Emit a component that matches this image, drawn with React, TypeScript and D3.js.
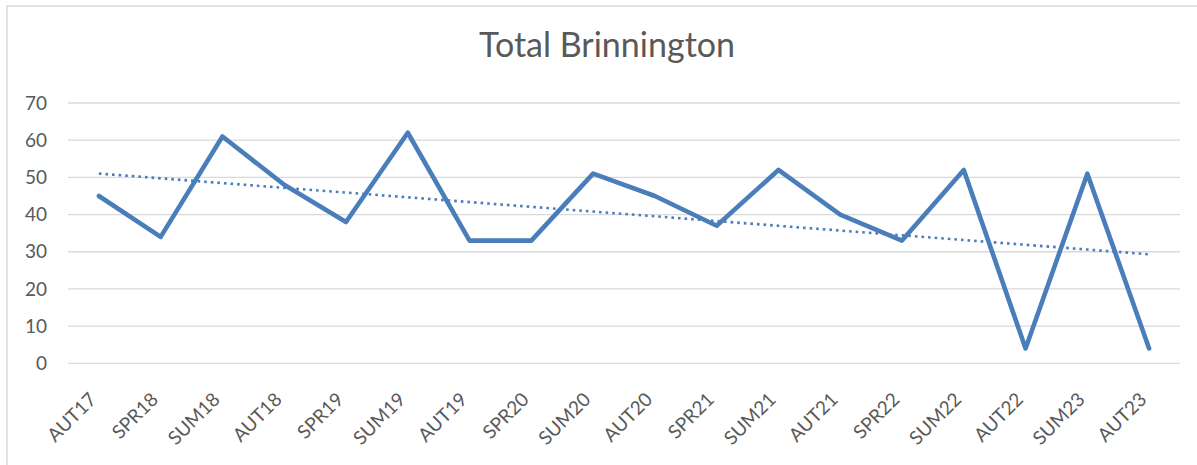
import React from "react";
import * as d3 from "d3";

const categories = ["AUT17","SPR18","SUM18","AUT18","SPR19","SUM19","AUT19","SPR20","SUM20","AUT20","SPR21","SUM21","AUT21","SPR22","SUM22","AUT22","SUM23","AUT23"];
const totals = [45,34,61,48,38,62,33,33,51,45,37,52,40,33,52,4,51,4];
const yTicks = [0,10,20,30,40,50,60,70];
const title = "Total Brinnington";

const W = 1197, H = 465;
const FONT = "Lato, 'Open Sans', sans-serif";

function linearTrend(vals: number[]) {
  const xs = vals.map((_, i) => i + 1);
  const mx = d3.mean(xs)!;
  const my = d3.mean(vals)!;
  let num = 0, den = 0;
  xs.forEach((x, i) => { num += (x - mx) * (vals[i] - my); den += (x - mx) ** 2; });
  const slope = num / den;
  const b = my - slope * mx;
  return xs.map(x => b + slope * x);
}

export default function App() {
  const left = 68, right = 1180, top = 103, bottom = 363.3;
  const x = d3.scaleBand<string>().domain(categories).range([left, right]);
  const y = d3.scaleLinear().domain([0, 70]).range([bottom, top]);
  const cx = (c: string) => x(c)! + x.bandwidth() / 2;
  const line = d3.line<number>().x((_, i) => cx(categories[i])).y(d => y(d));
  const trend = linearTrend(totals);
  return (
    <svg width={W} height={H} style={{ position: "absolute", left: 0, top: 0, background: "#fff" }}>
      <rect x={7} y={6} width={W + 20} height={H + 20} fill="#fff" stroke="#d9d9d9" strokeWidth={1.5} />
      <text x={607} y={57} textAnchor="middle" fontFamily={FONT} fontSize={34} fill="#595959">{title}</text>
      {yTicks.map(t => (
        <g key={t}>
          <line x1={left} x2={right} y1={y(t)} y2={y(t)} stroke="#d9d9d9" strokeWidth={1.3} />
          <text x={47} y={y(t)} dy="0.35em" textAnchor="end" fontFamily={FONT} fontSize={19} fill="#595959">{t}</text>
        </g>
      ))}
      {categories.map(c => (
        <text key={c} transform={`translate(${cx(c) - 6},${396}) rotate(-45)`} dy="0.35em" textAnchor="end" fontFamily={FONT} fontSize={19} fill="#595959">{c}</text>
      ))}
      <path d={line(trend)!} fill="none" stroke="#4a7ebb" strokeWidth={2.6} strokeDasharray="2.6 4" />
      <path d={line(totals)!} fill="none" stroke="#4a7ebb" strokeWidth={4.6} strokeLinejoin="round" strokeLinecap="round" />
    </svg>
  );
}
